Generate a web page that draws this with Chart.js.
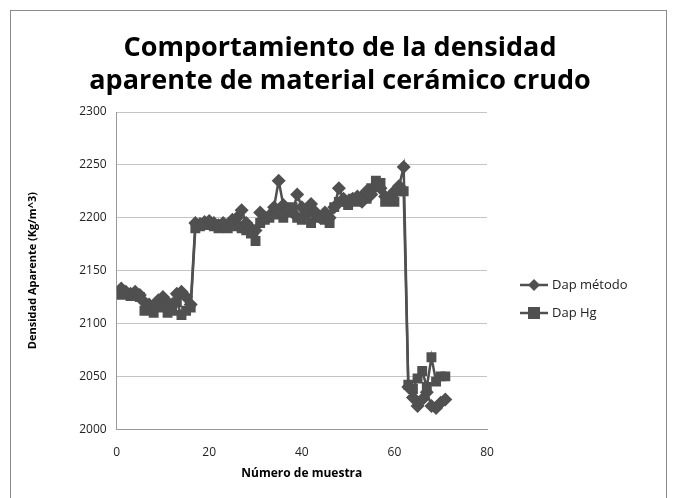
<!DOCTYPE html>
<html>
<head>
<meta charset="utf-8">
<script src="https://cdn.jsdelivr.net/npm/chart.js@4.4.1/dist/chart.umd.min.js"></script>
<style>
  html, body { margin: 0; padding: 0; background: #fff; }
  #wrap { position: relative; width: 677px; height: 498px; overflow: hidden; }
  #frame { position: absolute; left: 10px; top: 10px; width: 655px; height: 500px; border: 1px solid #8c8c8c; }
  canvas { position: absolute; left: 0; top: 0; }
</style>
</head>
<body>
<div id="wrap">
  <div id="frame"></div>
  <canvas id="c" width="677" height="498"></canvas>
</div>
<script>
// muestras 1..71
const dapMetodo = [
  2133, 2130, 2128, 2130, 2127, 2120, 2118, 2115, 2122, 2125, 2120, 2118, 2128, 2130, 2125, 2118,
  2195, 2194, 2196, 2197, 2195, 2193, 2195, 2192, 2198, 2200, 2207, 2195, 2190, 2188, 2205, 2200,
  2202, 2210, 2235, 2212, 2208, 2205, 2222, 2210, 2205, 2213, 2205, 2200, 2205, 2200, 2210, 2228,
  2218, 2215, 2218, 2220, 2215, 2225, 2222, 2230, 2228, 2220, 2218, 2225, 2230, 2248,
  2040, 2030, 2022, 2028, 2035, 2022, 2020, 2025, 2028
];
const dapHg = [
  2127, 2128, 2126, 2128, 2125, 2112, 2113, 2110, 2115, 2118, 2110, 2112, 2120, 2108, 2112, 2115,
  2190, 2192, 2195, 2193, 2192, 2190, 2193, 2190, 2195, 2192, 2190, 2188, 2185, 2178, 2195, 2198,
  2200, 2203, 2205, 2200, 2205, 2210, 2200, 2198, 2205, 2195, 2200, 2202, 2198, 2195, 2210, 2215,
  2215, 2212, 2218, 2215, 2220, 2218, 2228, 2235, 2233, 2215, 2220, 2215, 2225, 2225,
  2042, 2038, 2048, 2055, 2040, 2068, 2045, 2050, 2050
];
const seriesNames = ['Dap método', 'Dap Hg'];
const titleLines = ['Comportamiento de la densidad', 'aparente de material cerámico crudo'];

const gray = '#505050';
const toXY = arr => arr.map((v, i) => ({ x: i + 1, y: v }));

// title centred on the whole picture, legend at the right
const decorPlugin = {
  id: 'decor',
  afterDraw(chart) {
    const ctx = chart.ctx;
    ctx.save();
    ctx.fillStyle = '#000';
    ctx.font = 'bold 27px "Open Sans"';
    ctx.textAlign = 'center';
    ctx.textBaseline = 'middle';
    ctx.fillText(titleLines[0], 340, 48);
    ctx.fillText(titleLines[1], 340, 81);

    const x0 = chart.chartArea.right + 33;
    const items = [
      { name: seriesNames[0], style: 'diamond', y: 285 },
      { name: seriesNames[1], style: 'square', y: 313 }
    ];
    ctx.textAlign = 'left';
    items.forEach(it => {
      ctx.strokeStyle = gray;
      ctx.fillStyle = gray;
      ctx.lineWidth = 2.5;
      ctx.beginPath();
      ctx.moveTo(x0, it.y);
      ctx.lineTo(x0 + 28, it.y);
      ctx.stroke();
      const cx = x0 + 14;
      ctx.beginPath();
      if (it.style === 'diamond') {
        ctx.moveTo(cx, it.y - 6); ctx.lineTo(cx + 6, it.y); ctx.lineTo(cx, it.y + 6); ctx.lineTo(cx - 6, it.y);
        ctx.closePath();
      } else {
        ctx.rect(cx - 6, it.y - 6, 12, 12);
      }
      ctx.fill();
      ctx.fillStyle = '#222';
      ctx.font = '13px "Open Sans"';
      ctx.fillText(it.name, x0 + 32, it.y);
    });
    ctx.restore();
  }
};

new Chart(document.getElementById('c'), {
  type: 'scatter',
  data: {
    datasets: [
      {
        label: seriesNames[0],
        data: toXY(dapMetodo),
        showLine: true,
        borderColor: gray,
        backgroundColor: gray,
        borderWidth: 2.5,
        pointStyle: 'rectRot',
        pointRadius: 7,
        pointBorderWidth: 0,
        tension: 0
      },
      {
        label: seriesNames[1],
        data: toXY(dapHg),
        showLine: true,
        borderColor: gray,
        backgroundColor: gray,
        borderWidth: 2.5,
        pointStyle: 'rect',
        pointRadius: 7,
        pointBorderWidth: 0,
        tension: 0
      }
    ]
  },
  options: {
    responsive: false,
    animation: false,
    layout: { padding: { left: 22, right: 190, top: 112, bottom: 13 } },
    plugins: {
      legend: { display: false },
      tooltip: { enabled: false },
      title: { display: false }
    },
    scales: {
      x: {
        type: 'linear',
        min: 0, max: 80,
        ticks: { stepSize: 20, color: '#222', font: { family: 'Open Sans', size: 12 }, padding: 16 },
        grid: { display: false, drawTicks: false },
        border: { color: '#9a9a9a', width: 1 },
        title: { display: true, text: 'Número de muestra', color: '#000',
                 font: { family: 'Open Sans', size: 12, weight: 'bold' }, padding: { top: -9 } }
      },
      y: {
        min: 2000, max: 2300,
        ticks: { stepSize: 50, color: '#222', font: { family: 'Open Sans', size: 12 }, padding: 10,
                 callback: v => String(v) },
        grid: { color: '#c4c4c4', lineWidth: 1, drawTicks: false },
        border: { color: '#9a9a9a', width: 1 },
        title: { display: true, text: 'Densidad Aparente (Kg/m^3)', color: '#000',
                 font: { family: 'Open Sans', size: 11, weight: 'bold' }, padding: { bottom: 30 } }
      }
    }
  },
  plugins: [decorPlugin]
});
</script>
</body>
</html>
